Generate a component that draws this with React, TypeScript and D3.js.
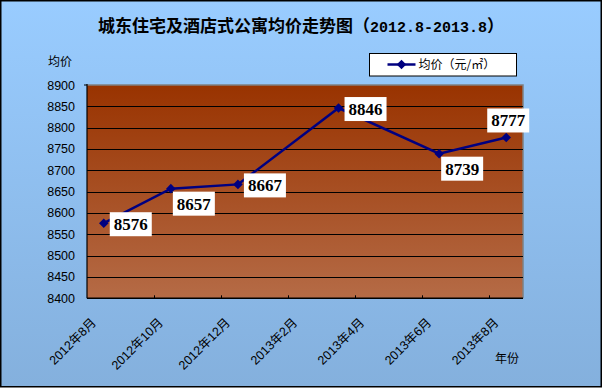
import { useEffect, useRef } from 'react';
import * as d3 from 'd3';

// every month on the date axis (one band per month)
const months = [
  '2012年8月', '2012年9月', '2012年10月', '2012年11月', '2012年12月', '2013年1月',
  '2013年2月', '2013年3月', '2013年4月', '2013年5月', '2013年6月', '2013年7月', '2013年8月',
];
// axis labels shown every two months
const tickLabels = ['2012年8月', '2012年10月', '2012年12月', '2013年2月', '2013年4月', '2013年6月', '2013年8月'];
// observations
const pointMonths = ['2012年8月', '2012年10月', '2012年12月', '2013年3月', '2013年6月', '2013年8月'];
const prices = [8576, 8657, 8667, 8846, 8739, 8777];
const labelPlacement = ['right', 'below', 'right', 'right', 'below', 'above'];

const titleParts = ['城东住宅及酒店式公寓均价走势图（', '2012.8-2013.8', '）'];
const seriesName = '均价（元/㎡）';

export default function App() {
  const svgRef = useRef<SVGSVGElement>(null);

  useEffect(() => {
    if (!svgRef.current) return;
    const svg = d3.select(svgRef.current);
    svg.selectAll('*').remove();

    const width = 602;
    const height = 389;
    const plot = { left: 87, right: 523, top: 85, bottom: 298.3 };
    const sans = '"Liberation Sans", "Noto Sans CJK SC", sans-serif';
    const cjk = '"Noto Sans CJK SC", sans-serif';

    const defs = svg.append('defs');
    const bg = defs.append('linearGradient').attr('id', 'bg').attr('x1', 0).attr('y1', 0).attr('x2', 0).attr('y2', 1);
    bg.append('stop').attr('offset', '0%').attr('stop-color', '#99CCFF');
    bg.append('stop').attr('offset', '100%').attr('stop-color', '#84B0DD');
    const pg = defs.append('linearGradient').attr('id', 'pg').attr('x1', 0).attr('y1', 0).attr('x2', 0).attr('y2', 1);
    pg.append('stop').attr('offset', '0%').attr('stop-color', '#993300');
    pg.append('stop').attr('offset', '100%').attr('stop-color', '#B56B46');

    // chart background + border
    svg.append('rect')
      .attr('x', 0.75).attr('y', 0.75)
      .attr('width', width - 1.5).attr('height', height - 3)
      .attr('fill', 'url(#bg)')
      .attr('stroke', '#000')
      .attr('stroke-width', 1.5);

    // Scales
    const x = d3.scaleBand<string>()
      .domain(months)
      .range([plot.left, plot.right])
      .paddingInner(0)
      .paddingOuter(0);

    const y = d3.scaleLinear()
      .domain([8400, 8900])
      .range([plot.bottom, plot.top]);

    const cx = (m: string) => (x(m) as number) + x.bandwidth() / 2;

    // plot area
    svg.append('rect')
      .attr('x', plot.left).attr('y', plot.top)
      .attr('width', plot.right - plot.left)
      .attr('height', plot.bottom - plot.top)
      .attr('fill', 'url(#pg)');

    svg.append('path')
      .attr('d', `M${plot.left},${plot.top}H${plot.right}V${plot.bottom}`)
      .attr('fill', 'none')
      .attr('stroke', '#808080')
      .attr('stroke-width', 1.5);

    // gridlines
    const yTicks = y.ticks(10);
    svg.append('g')
      .selectAll('line')
      .data(yTicks.filter(t => t > 8400 && t < 8900))
      .enter()
      .append('line')
      .attr('x1', plot.left).attr('x2', plot.right)
      .attr('y1', d => Math.round(y(d)) + 0.5)
      .attr('y2', d => Math.round(y(d)) + 0.5)
      .attr('stroke', '#000')
      .attr('stroke-width', 1);

    // axes
    svg.append('line')
      .attr('x1', plot.left).attr('x2', plot.left)
      .attr('y1', plot.top - 1).attr('y2', plot.bottom)
      .attr('stroke', '#000').attr('stroke-width', 1.2);
    svg.append('line')
      .attr('x1', plot.left - 3).attr('x2', plot.left)
      .attr('y1', plot.top).attr('y2', plot.top)
      .attr('stroke', '#000').attr('stroke-width', 1);
    svg.append('line')
      .attr('x1', plot.left).attr('x2', plot.right)
      .attr('y1', plot.bottom).attr('y2', plot.bottom)
      .attr('stroke', '#000').attr('stroke-width', 1.5);

    // x ticks (inside) at every two months
    svg.append('g')
      .selectAll('line')
      .data(months.filter((_, i) => i > 0 && i % 2 === 0))
      .enter()
      .append('line')
      .attr('x1', d => Math.round(x(d) as number) + 0.5)
      .attr('x2', d => Math.round(x(d) as number) + 0.5)
      .attr('y1', plot.bottom - 3)
      .attr('y2', plot.bottom)
      .attr('stroke', '#000');

    // y tick labels
    svg.append('g')
      .selectAll('text')
      .data(yTicks)
      .enter()
      .append('text')
      .attr('x', 75)
      .attr('y', d => y(d))
      .attr('dy', '0.36em')
      .attr('text-anchor', 'end')
      .style('font-family', sans)
      .style('font-size', '12.5px')
      .text(d => d);

    // x tick labels, rotated
    svg.append('g')
      .selectAll('text')
      .data(tickLabels)
      .enter()
      .append('text')
      .attr('transform', d => `translate(${cx(d) - 7},${plot.bottom + 25}) rotate(-45)`)
      .attr('text-anchor', 'end')
      .style('font-family', sans)
      .style('font-size', '12.5px')
      .text(d => d);

    // series line
    const pts = pointMonths.map((m, i) => ({ m, v: prices[i], place: labelPlacement[i] }));
    const line = d3.line<{ m: string; v: number }>()
      .x(d => cx(d.m))
      .y(d => y(d.v));

    svg.append('path')
      .datum(pts)
      .attr('d', line)
      .attr('fill', 'none')
      .attr('stroke', '#000080')
      .attr('stroke-width', 2.5);

    const diamond = d3.symbol().type(d3.symbolSquare).size(46);
    svg.append('g')
      .selectAll('path')
      .data(pts)
      .enter()
      .append('path')
      .attr('d', diamond)
      .attr('transform', d => `translate(${cx(d.m)},${y(d.v)}) rotate(45)`)
      .attr('fill', '#000080');

    // data labels
    const bw = 42;
    const bh = 24;
    const lab = svg.append('g')
      .selectAll('g')
      .data(pts)
      .enter()
      .append('g')
      .attr('transform', d => {
        const px = cx(d.m);
        const py = y(d.v);
        if (d.place === 'below') return `translate(${px + 2},${py + 3})`;
        if (d.place === 'above') return `translate(${px + 2 - bw / 2},${py - 5 - bh})`;
        return `translate(${px + 6},${py + 1 - bh / 2})`;
      });
    lab.append('rect')
      .attr('width', bw).attr('height', bh)
      .attr('fill', '#fff');
    lab.append('text')
      .attr('x', bw / 2)
      .attr('y', bh / 2)
      .attr('dy', '0.35em')
      .attr('text-anchor', 'middle')
      .style('font-family', '"Liberation Serif", serif')
      .style('font-weight', '700')
      .style('font-size', '17px')
      .text(d => d.v);

    // title: CJK part + monospaced dates
    const t = svg.append('text')
      .attr('x', 301)
      .attr('y', 32)
      .attr('text-anchor', 'middle')
      .style('font-family', cjk)
      .style('font-weight', '700')
      .style('font-size', '17px');
    t.append('tspan').text(titleParts[0]);
    t.append('tspan')
      .style('font-family', '"Liberation Mono", monospace')
      .style('font-size', '15px')
      .text(titleParts[1]);
    t.append('tspan').text(titleParts[2]);

    // axis titles
    svg.append('text')
      .attr('x', 48).attr('y', 65.5)
      .style('font-family', cjk)
      .style('font-size', '12px')
      .text('均价');
    svg.append('text')
      .attr('x', 495).attr('y', 362.5)
      .style('font-family', cjk)
      .style('font-size', '12px')
      .text('年份');

    // legend
    const legend = svg.append('g').attr('transform', 'translate(369.5,53.5)');
    legend.append('rect')
      .attr('width', 147).attr('height', 22.5)
      .attr('fill', '#fff')
      .attr('stroke', '#000')
      .attr('stroke-width', 1);
    legend.append('line')
      .attr('x1', 18).attr('x2', 46)
      .attr('y1', 11).attr('y2', 11)
      .attr('stroke', '#000080')
      .attr('stroke-width', 2.5);
    legend.append('path')
      .attr('d', diamond)
      .attr('transform', 'translate(32,11) rotate(45)')
      .attr('fill', '#000080');
    legend.append('text')
      .attr('x', 49).attr('y', 15.5)
      .style('font-family', cjk)
      .style('font-size', '12px')
      .text(seriesName);
  }, []);

  return (
    <svg
      ref={svgRef}
      width={602}
      height={389}
      style={{ position: 'absolute', left: 0, top: 0, background: '#fff' }}
    />
  );
}
